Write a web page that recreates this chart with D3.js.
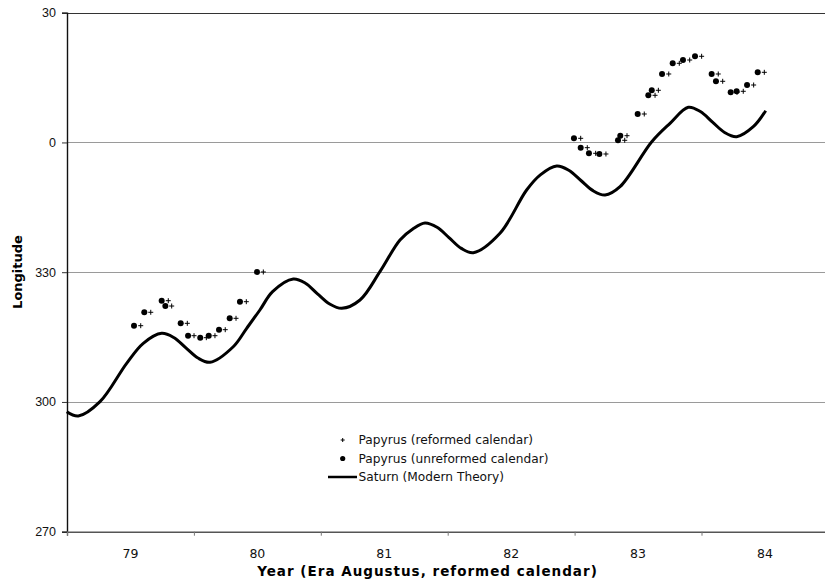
<!DOCTYPE html>
<html>
<head>
<meta charset="utf-8">
<script src="https://cdn.jsdelivr.net/npm/d3@7"></script>
<style>
  body { margin: 0; background: #fff; }
  svg { display: block; font-family: "DejaVu Sans", Verdana, sans-serif; }
</style>
</head>
<body>
<script>
"use strict";
var svg_width = 825;
var svg_height = 583;

// Saturn, modern theory (year, longitude unwrapped past 360)
var saturnYears = [78.498, 78.589, 78.76, 78.97, 79.101, 79.246, 79.341, 79.437, 79.532, 79.627, 79.81, 79.916, 80.02, 80.12,
    80.283, 80.379, 80.474, 80.57, 80.665, 80.809, 80.966, 81.124, 81.225, 81.321, 81.416, 81.51, 81.607, 81.702,
    81.912, 82.122, 82.23, 82.359, 82.454, 82.55, 82.645, 82.74, 82.858, 83.108, 83.252,
    83.396, 83.491, 83.587, 83.682, 83.777, 83.908, 84.006];
var saturnLon = [297.75, 296.75, 300.06, 308.94, 313.56, 315.87, 314.9, 312.5, 310.15, 309.17, 312.77, 317.03, 321.26, 325.5,
    328.43, 327.45, 325.0, 322.65, 321.65, 323.57, 330.12, 337.45, 340.0, 341.38, 340.38, 338.0, 335.5, 334.51,
    339.0, 349.0, 352.5, 354.55, 353.57, 351.2, 348.85, 347.85, 349.77, 360.17, 364.43,
    368.13, 367.15, 364.7, 362.3, 361.33, 363.64, 367.34];

// papyrus observations: same longitudes, two calendar datings
var unreformedYears = [79.028, 79.109, 79.246, 79.275, 79.396, 79.454, 79.550, 79.617, 79.698, 79.782, 79.863, 79.997,
    82.495, 82.548, 82.613, 82.695, 82.842, 82.860, 82.997, 83.081, 83.108, 83.189, 83.273, 83.354, 83.449,
    83.580, 83.614, 83.730, 83.777, 83.859, 83.943];
var reformedYears = [79.081, 79.160, 79.298, 79.325, 79.448, 79.501, 79.598, 79.666, 79.747, 79.832, 79.913, 80.047,
    82.548, 82.600, 82.666, 82.747, 82.895, 82.913, 83.049, 83.134, 83.160, 83.242, 83.325, 83.407, 83.501,
    83.632, 83.667, 83.780, 83.829, 83.911, 83.995];
var papyrusLon = [317.63, 320.73, 323.41, 322.18, 318.18, 315.32, 314.86, 315.32, 316.71, 319.34, 323.18, 330.05,
    360.96, 358.79, 357.49, 357.33, 360.50, 361.56, 366.58, 370.90, 372.06, 375.83, 378.30, 379.06, 379.92,
    375.83, 374.14, 371.60, 371.83, 373.28, 376.22];

var yearLabels = [79, 80, 81, 82, 83, 84];
var yearTicks = [78.5, 79.5, 80.5, 81.5, 82.5, 83.5, 84.5];
var lonTicks = [270, 300, 330, 360, 390];

var plot_left = 67, plot_top = 12.7, plot_bottom = 531.7;

var x = d3.scaleLinear().domain([78.5, 84.5]).range([plot_left, plot_left + 6 * 126.9]);
var y = d3.scaleLinear().domain([270, 390]).range([plot_bottom, plot_top]);

var svg = d3.select("body").append("svg")
    .attr("width", svg_width)
    .attr("height", svg_height);

// gridlines
svg.append("g").selectAll("line")
    .data([300, 330, 360])
    .enter().append("line")
    .attr("x1", plot_left).attr("x2", svg_width)
    .attr("y1", function(d) { return Math.round(y(d)) + 0.5; })
    .attr("y2", function(d) { return Math.round(y(d)) + 0.5; })
    .style("stroke", "#9a9a9a")
    .style("stroke-width", 1);

// top line at 30
svg.append("line")
    .attr("x1", plot_left).attr("x2", svg_width)
    .attr("y1", Math.round(y(390)) + 0.5).attr("y2", Math.round(y(390)) + 0.5)
    .style("stroke", "#333").style("stroke-width", 1.2);

// y axis
var yaxis = d3.axisLeft(y).tickValues(lonTicks).tickSize(5).tickPadding(6)
    .tickFormat(function(d) { return d % 360; });
var gy = svg.append("g")
    .attr("transform", "translate(" + plot_left + ",0)")
    .call(yaxis);
gy.select(".domain").style("stroke", "#111").style("stroke-width", 1.4);
gy.selectAll(".tick line").style("stroke", "#333");
gy.selectAll(".tick text").style("font-size", "12.5px").style("fill", "#111").attr("font-family", null);

// x axis: tick marks on half years, labels on whole years
var xaxis = d3.axisBottom(x).tickValues(yearTicks).tickSize(4).tickFormat("");
var gx = svg.append("g")
    .attr("transform", "translate(0," + plot_bottom + ")")
    .call(xaxis);
gx.select(".domain").style("stroke", "#555").style("stroke-width", 1.4);
gx.selectAll(".tick line").style("stroke", "#777");

svg.append("g").selectAll("text")
    .data(yearLabels)
    .enter().append("text")
    .attr("x", function(d) { return x(d); })
    .attr("y", plot_bottom + 26)
    .attr("text-anchor", "middle")
    .style("font-size", "12.5px")
    .style("fill", "#111")
    .text(function(d) { return d; });

// axis titles
svg.append("text")
    .attr("x", 427.5)
    .attr("y", 576)
    .attr("text-anchor", "middle")
    .style("font-size", "13.5px")
    .style("font-weight", "bold")
    .style("letter-spacing", "1px")
    .text("Year (Era Augustus, reformed calendar)");

svg.append("text")
    .attr("transform", "translate(22,272) rotate(-90)")
    .attr("text-anchor", "middle")
    .style("font-size", "13px")
    .style("font-weight", "bold")
    .text("Longitude");

// Saturn curve
var line = d3.line()
    .x(function(d) { return x(d[0]); })
    .y(function(d) { return y(d[1]); })
    .curve(d3.curveCatmullRom.alpha(0.5));

svg.append("path")
    .datum(d3.zip(saturnYears, saturnLon))
    .attr("d", line)
    .style("fill", "none")
    .style("stroke", "#000")
    .style("stroke-width", 3);

// unreformed = dots
svg.append("g").selectAll("circle")
    .data(d3.zip(unreformedYears, papyrusLon))
    .enter().append("circle")
    .attr("cx", function(d) { return x(d[0]); })
    .attr("cy", function(d) { return y(d[1]); })
    .attr("r", 3)
    .style("fill", "#000");

// reformed = plus signs
svg.append("g").selectAll("path")
    .data(d3.zip(reformedYears, papyrusLon))
    .enter().append("path")
    .attr("d", "M-2.5,0H2.5M0,-2.5V2.5")
    .attr("transform", function(d) { return "translate(" + x(d[0]) + "," + y(d[1]) + ")"; })
    .style("stroke", "#000")
    .style("stroke-width", 1);

// legend
var legend = svg.append("g");
var legend_items = ["Papyrus (reformed calendar)", "Papyrus (unreformed calendar)", "Saturn (Modern Theory)"];
var legend_y = [440, 458.5, 477];

legend.append("path")
    .attr("d", "M-2,0H2M0,-2V2")
    .attr("transform", "translate(342.7," + legend_y[0] + ")")
    .style("stroke", "#000").style("stroke-width", 1);
legend.append("circle")
    .attr("cx", 342.7).attr("cy", legend_y[1]).attr("r", 2.6)
    .style("fill", "#000");
legend.append("line")
    .attr("x1", 328).attr("x2", 357)
    .attr("y1", legend_y[2]).attr("y2", legend_y[2])
    .style("stroke", "#000").style("stroke-width", 2.5);

legend.selectAll("text")
    .data(legend_items)
    .enter().append("text")
    .attr("x", 358.5)
    .attr("y", function(d, i) { return legend_y[i]; })
    .attr("dy", "0.35em")
    .style("font-size", "12.2px")
    .style("fill", "#111")
    .text(function(d) { return d; });
</script>
</body>
</html>
